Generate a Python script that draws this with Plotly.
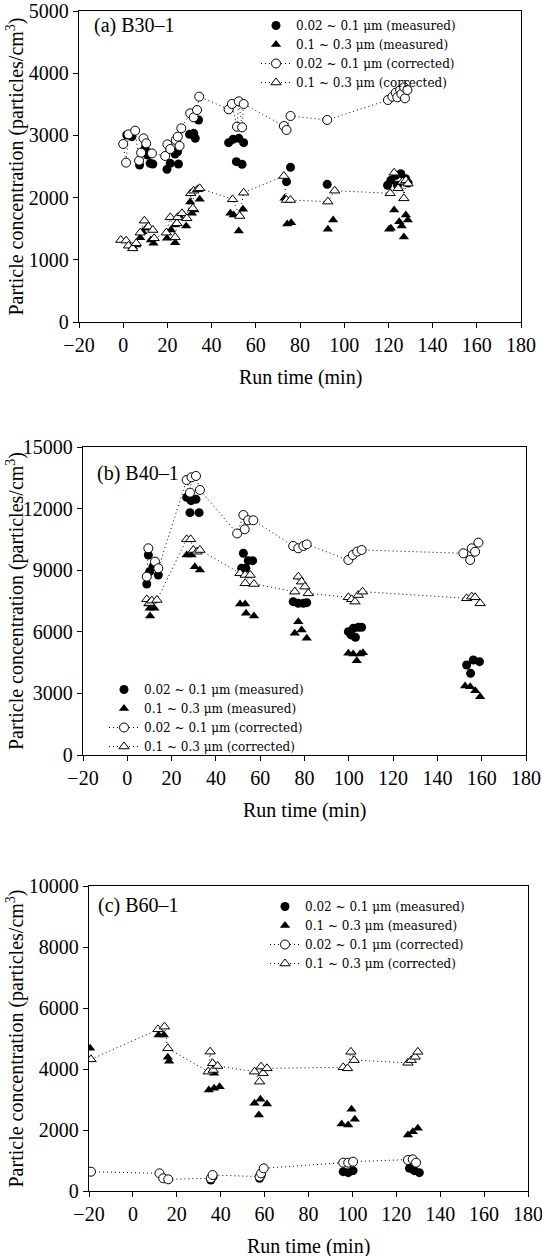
import plotly.graph_objects as go

# ---------------- Panel (a) B30-1 ----------------
a_mf_t = [1.6, 3.9, 7.4, 9.9, 11, 12.2, 13.4, 19.8, 21.3, 23.5, 24.6, 25, 30, 31.9, 32.6, 34.1,
          47.7, 49.7, 51.2, 52.3, 53.8, 54.5, 73.9, 75.7, 92.3,
          119.6, 121.1, 123.3, 124.1, 125.6, 127.8, 128.9]
a_mf_v = [3006, 2980, 2524, 2792, 2685, 2551, 2540, 2454, 2551, 2701, 2738, 2540, 3017, 3033, 2953, 3248,
          2883, 2937, 2578, 2953, 2535, 2883, 2256, 2487, 2213,
          2197, 2277, 2358, 2197, 2385, 2304, 2235]
a_mc_t = [4.3, 5.9, 7.7, 8.7, 10.4, 12.5, 13.7, 19.8, 21.6, 23.5, 23.5, 25.4, 28.5, 30.3, 31.1, 32.2, 34.6,
          48.5, 50, 52.3, 54.2, 73, 74.2, 76, 92.6, 95,
          120.3, 121.1, 122.6, 124.9, 126, 127, 127.9, 128.8]
a_mc_v = [1211, 1238, 1356, 1452, 1506, 1318, 1265, 1345, 1479, 1275, 1559, 1704, 1543, 1929, 1747, 1801, 1972,
          1747, 1720, 1463, 1811, 1988, 1576, 1597, 1490, 1640,
          1490, 1506, 1801, 1613, 1543, 1367, 1720, 1640]
a_cf_t = [0, 1.3, 2.4, 5.4, 7.2, 8.1, 9.2, 10.4, 13, 19, 20, 21.3, 23.8, 24.7, 25.5, 26.3, 30.3, 31.9, 33.4, 34.4,
          47.7, 49.2, 51.5, 52.3, 53.8, 54.5, 72.7, 73.9, 75.7, 92.3,
          119.8, 121.8, 123.3, 124, 125.3, 125.9, 127.1, 127.5, 128.6]
a_cf_v = [2862, 2562, 3017, 3076, 2594, 2722, 2953, 2872, 2711, 2669, 2856, 2781, 2926, 2980, 2830, 3114, 3355, 3290, 3408, 3623,
          3419, 3505, 3140, 3548, 3130, 3505, 3151, 3087, 3312, 3248,
          3569, 3623, 3687, 3612, 3730, 3666, 3773, 3596, 3730]
a_cc_t = [-1.1, 1.3, 2.4, 4.3, 5.9, 7.7, 9.6, 11.4, 13.4, 14, 19.5, 21.3, 23.5, 24.3, 24.6, 26.6, 28.8, 30.6, 31.5, 31.9, 33.7, 34.6,
          49.5, 52.7, 54.5, 72.7, 73.9, 75.7, 92.6, 95.7,
          120.8, 122.6, 124.4, 126.4, 127, 127.9, 128.9]
a_cc_v = [1318, 1308, 1227, 1184, 1265, 1436, 1629, 1533, 1479, 1345, 1436, 1683, 1361, 1586, 1683, 1747, 1667, 2069, 1827, 2111, 2133, 2149,
          1972, 1704, 2079, 2347, 1961, 1961, 1935, 2111,
          2069, 2400, 2149, 2256, 1988, 2277, 2224]

# ---------------- Panel (b) B40-1 ----------------
b_mf_t = [8.8, 9.5, 10.1, 11.6, 14, 26.8, 28.3, 28.8, 31, 32.4, 51.6, 52.4, 53.5, 54.6, 56.6,
          74.9, 77.2, 79.5, 81, 99.8, 101, 102, 103, 104.3, 105.8, 153.2, 155, 156.2, 159]
b_mf_v = [8329, 9742, 8930, 9175, 8767, 12550, 11802, 12387, 12452, 11802, 9093, 9823, 9100, 9466, 9466,
          7468, 7387, 7387, 7420, 6007, 5850, 6169, 5731, 6218, 6218, 4384, 3978, 4628, 4547]
b_mc_t = [9.5, 10.1, 10.3, 12.2, 26.8, 29, 30.5, 32.8, 50.9, 53.2, 53.6, 57.2, 75.6, 77.2, 78.7, 81,
          99.8, 102, 103.6, 105.1, 106.4, 152.5, 154.8, 157.1, 159.3]
b_mc_v = [7355, 7144, 6770, 7144, 9741, 9741, 9173, 9010, 7355, 7355, 6900, 6770, 5926, 6494, 6088, 5682,
          4952, 4920, 4595, 4920, 4985, 3361, 3329, 3134, 2842]
b_cf_t = [8.8, 9.5, 12.5, 14, 26.8, 28.3, 29, 31, 32.8, 49.6, 52.4, 53, 54.6, 56.9,
          74.9, 77.2, 79.5, 81, 99.8, 101.8, 103.8, 105.8, 151.7, 154.8, 155.5, 157, 158.5]
b_cf_v = [8686, 10067, 9419, 9094, 13395, 12777, 13525, 13590, 12907, 10788, 11690, 10991, 11432, 11432,
          10180, 10067, 10180, 10260, 9498, 9742, 9904, 9985, 9823, 9498, 10067, 9900, 10343]
b_cc_t = [8.8, 10, 11.1, 13.4, 26.8, 28.6, 29.8, 31.5, 32.8, 50.9, 53.2, 53.2, 55.5, 57.2,
          75.6, 77.2, 78.7, 80.2, 81.7, 99.8, 101.3, 102.8, 104.3, 106.2, 153.2, 155.5, 157, 159.3]
b_cc_v = [7582, 7400, 7517, 7550, 10504, 10504, 9984, 9900, 9984, 8849, 8767, 8361, 8767, 8329,
          7955, 8686, 8442, 8199, 7874, 7680, 7582, 7469, 7790, 7955, 7631, 7712, 7680, 7387]

# ---------------- Panel (c) B60-1 ----------------
c_mf_t = [35.5, 36.5, 57.7, 58.5, 95.8, 98.1, 100.3, 126, 128.2, 130.5]
c_mf_v = [361, 470, 415, 524, 634, 601, 667, 743, 667, 601]
c_mc_t = [-19.5, 11.7, 14.1, 15.9, 16.5, 34.6, 37, 37, 39.5, 55.4, 57.4, 58.1, 61.1,
          95.1, 98.1, 99.6, 101.1, 125.3, 127.5, 129.8]
c_mc_v = [4678, 5115, 5115, 4383, 4250, 3311, 3366, 3858, 3421, 2874, 2492, 3005, 2852,
          2197, 2164, 2678, 2350, 1837, 1946, 2055]
c_cf_t = [-19.1, 12.1, 13.8, 16.1, 35.5, 36.3, 57.7, 58.4, 59.6, 95.8, 98.1, 100.3, 125.3, 127.5, 129]
c_cf_v = [633, 579, 415, 383, 415, 524, 470, 579, 743, 929, 929, 961, 1016, 1038, 929]
c_cc_t = [-19.1, 11.4, 14.4, 15.9, 34.3, 35.2, 36.3, 36.6, 38.6, 55.4, 57.7, 58.4, 59.3, 61.1,
          95.8, 97.8, 99.3, 100.8, 125.3, 126.8, 128.6, 129.8]
c_cc_v = [4317, 5301, 5388, 4678, 3913, 4568, 4186, 3968, 4098, 3913, 3585, 4077, 3858, 4022,
          4055, 4022, 4563, 4290, 4202, 4290, 4399, 4563]

series_names = ["0.02 ~ 0.1 μm (measured)", "0.1 ~ 0.3 μm (measured)",
                "0.02 ~ 0.1 μm (corrected)", "0.1 ~ 0.3 μm (corrected)"]
panel_labels = ["(a) B30–1", "(b) B40–1", "(c) B60–1"]
x_ticks = [-20, 0, 20, 40, 60, 80, 100, 120, 140, 160, 180]
y_max = [5000, 15000, 10000]
y_step = [1000, 3000, 2000]

panels = [
    (a_mf_t, a_mf_v, a_mc_t, a_mc_v, a_cf_t, a_cf_v, a_cc_t, a_cc_v),
    (b_mf_t, b_mf_v, b_mc_t, b_mc_v, b_cf_t, b_cf_v, b_cc_t, b_cc_v),
    (c_mf_t, c_mf_v, c_mc_t, c_mc_v, c_cf_t, c_cf_v, c_cc_t, c_cc_v),
]

W, H = 542, 1256
# pixel boxes of the plot areas (left, right, top, bottom)
boxes = [(79, 521, 11, 322), (83, 526, 447, 755), (89, 528, 886, 1191)]
legend_pos = [(256, 11), (104, 675), (265, 892)]
label_pos = [(92, 25), (95, 473), (96, 905)]

SERIF = "Liberation Serif"
LEG_FONT = "DejaVu Serif"

fig = go.Figure()
layout = dict(width=W, height=H, margin=dict(l=0, r=0, t=0, b=0, pad=0, autoexpand=False),
              paper_bgcolor="white", plot_bgcolor="white", showlegend=True,
              annotations=[])

msize = 9
for i, (mf_t, mf_v, mc_t, mc_v, cf_t, cf_v, cc_t, cc_v) in enumerate(panels):
    n = "" if i == 0 else str(i + 1)
    xa, ya = "x" + n, "y" + n
    leg = "legend" + n
    fig.add_trace(go.Scatter(x=mf_t, y=mf_v, mode="markers", name=series_names[0],
                             marker=dict(symbol="circle", size=msize, color="black"),
                             xaxis=xa, yaxis=ya, legend=leg))
    fig.add_trace(go.Scatter(x=mc_t, y=mc_v, mode="markers", name=series_names[1],
                             marker=dict(symbol="triangle-up", size=msize, color="black"),
                             xaxis=xa, yaxis=ya, legend=leg))
    fig.add_trace(go.Scatter(x=cf_t, y=cf_v, mode="lines+markers", name=series_names[2],
                             line=dict(color="black", width=1, dash="1px,3px"),
                             marker=dict(symbol="circle", size=msize, color="white",
                                         line=dict(color="black", width=1)),
                             xaxis=xa, yaxis=ya, legend=leg))
    fig.add_trace(go.Scatter(x=cc_t, y=cc_v, mode="lines+markers", name=series_names[3],
                             line=dict(color="black", width=1, dash="1px,3px"),
                             marker=dict(symbol="triangle-up", size=msize, color="white",
                                         line=dict(color="black", width=1)),
                             xaxis=xa, yaxis=ya, legend=leg))

    l, r, t, b = boxes[i]
    xdom = [l / W, r / W]
    ydom = [1 - b / H, 1 - t / H]
    axis_common = dict(showline=True, linecolor="black", linewidth=1.3, mirror=True,
                       ticks="outside", ticklen=5, tickwidth=1, tickcolor="black",
                       showgrid=False, zeroline=False, automargin=False,
                       ticklabeloverflow="allow",
                       tickfont=dict(family=SERIF, size=20, color="black"))
    layout["xaxis" + n] = dict(domain=xdom, range=[x_ticks[0], x_ticks[-1]],
                               tickvals=x_ticks, anchor=ya, **axis_common)
    layout["yaxis" + n] = dict(domain=ydom, range=[0, y_max[i]], dtick=y_step[i], tick0=0,
                               tickformat="d", anchor=xa, **axis_common)
    lx, ly = legend_pos[i]
    layout[leg] = dict(x=lx / W, y=1 - ly / H, xanchor="left", yanchor="top",
                       bgcolor="rgba(0,0,0,0)", borderwidth=0, tracegroupgap=0,
                       font=dict(family=LEG_FONT, size=12, color="black"))
    # panel label
    px, py = label_pos[i]
    layout["annotations"].append(dict(x=px / W, y=1 - py / H, xref="paper", yref="paper",
                                      text=panel_labels[i], showarrow=False,
                                      xanchor="left", yanchor="middle",
                                      font=dict(family=SERIF, size=20, color="black")))
    # x title
    layout["annotations"].append(dict(x=(l + r) / 2 / W, y=1 - (b + 55) / H, xref="paper", yref="paper",
                                      text="Run time (min)", showarrow=False,
                                      xanchor="center", yanchor="middle",
                                      font=dict(family=SERIF, size=20, color="black")))
    # y title
    layout["annotations"].append(dict(x=15 / W, y=1 - (t + b) / 2 / H, xref="paper", yref="paper",
                                      text="Particle concentration (particles/cm<sup>3</sup>)",
                                      showarrow=False, textangle=-90,
                                      xanchor="center", yanchor="middle",
                                      font=dict(family=SERIF, size=20, color="black")))

fig.update_layout(**layout)
fig.write_html("out.html", config={"displayModeBar": False},
               post_script="document.body.style.margin='0';document.body.style.padding='0';"
                           "document.documentElement.style.overflow='hidden';")
